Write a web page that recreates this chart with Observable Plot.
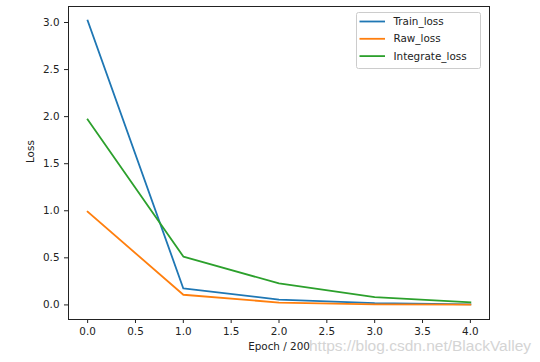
<!DOCTYPE html>
<html>
<head>
<meta charset="utf-8">
<script src="https://cdn.jsdelivr.net/npm/d3@7"></script>
<script src="https://cdn.jsdelivr.net/npm/@observablehq/plot@0.6"></script>
<style>
  html, body { margin: 0; padding: 0; background: #fff; }
  #chart { width: 540px; height: 362px; }
</style>
</head>
<body>
<div id="chart"></div>
<script>
const epochs = [0, 1, 2, 3, 4];
const seriesNames = ["Train_loss", "Raw_loss", "Integrate_loss"];
const trainLoss = [3.02, 0.175, 0.056, 0.018, 0.006];
const rawLoss = [0.99, 0.108, 0.025, 0.006, 0.002];
const integrateLoss = [1.97, 0.514, 0.228, 0.083, 0.028];
const colors = ["#1f77b4", "#ff7f0e", "#2ca02c"];
const xTicks = [0, 0.5, 1, 1.5, 2, 2.5, 3, 3.5, 4];
const yTicks = [0, 0.5, 1, 1.5, 2, 2.5, 3];
const xLabel = "Epoch / 200";
const yLabel = "Loss";
const watermark = "https://blog.csdn.net/BlackValley";

const allSeries = [trainLoss, rawLoss, integrateLoss];
const rows = [];
allSeries.forEach((vals, si) => {
  vals.forEach((v, i) => rows.push({series: seriesNames[si], epoch: epochs[i], loss: v}));
});

const font = "DejaVu Sans, sans-serif";
const plot = Plot.plot({
  width: 540,
  height: 362,
  marginLeft: 68,
  marginRight: 51,
  marginTop: 6,
  marginBottom: 43,
  style: {fontFamily: font, fontSize: "10.4px", color: "#222", background: "#fff"},
  x: {domain: [-0.2, 4.2]},
  y: {domain: [-0.155, 3.17]},
  color: {domain: seriesNames, range: colors},
  marks: [
    Plot.axisX({ticks: xTicks, tickFormat: d3.format(".1f"), tickSize: 4, tickPadding: 4, label: null, fontSize: 10.4, fill: "#222"}),
    Plot.axisY({ticks: yTicks, tickFormat: d3.format(".1f"), tickSize: 4, tickPadding: 5, label: null, fontSize: 10.4, fill: "#222"}),
    Plot.line(rows, {x: "epoch", y: "loss", z: "series", stroke: "series", strokeWidth: 1.8, strokeLinejoin: "round", strokeLinecap: "square"}),
    Plot.frame({stroke: "#222", strokeWidth: 1}),
    Plot.text([yLabel], {frameAnchor: "left", dx: -38, rotate: -90, fontSize: 10.4, fill: "#222"}),
    Plot.text([xLabel], {frameAnchor: "bottom", dy: 27, lineAnchor: "middle", fontSize: 10.4, fill: "#222"})
  ]
});

document.getElementById("chart").appendChild(plot);

// Legend (upper right, matplotlib style)
const svg = d3.select(plot);
const lg = svg.append("g").attr("font-family", font).attr("font-size", 10.4).attr("text-anchor", "start");
const lx = 356, ly = 12, lw = 124, lh = 56;
lg.append("rect").attr("x", lx + 0.5).attr("y", ly + 0.5).attr("width", lw).attr("height", lh)
  .attr("rx", 2).attr("fill", "#fff").attr("stroke", "#cccccc").attr("stroke-width", 1);
seriesNames.forEach((name, i) => {
  const yy = ly + 9.5 + i * 17.3;
  lg.append("line").attr("x1", lx + 3.5).attr("x2", lx + 29).attr("y1", yy).attr("y2", yy)
    .attr("stroke", colors[i]).attr("stroke-width", 1.8);
  lg.append("text").attr("x", lx + 37.5).attr("y", yy).attr("dy", "0.35em").attr("fill", "#222")
    .attr("text-anchor", "start").text(name);
});

// Watermark
svg.append("text").attr("x", 309).attr("y", 351).attr("text-anchor", "start")
  .attr("font-family", "Liberation Sans, Arial, sans-serif")
  .attr("font-size", 15.5).attr("fill", "#d4d4d4").text(watermark);
</script>
</body>
</html>
